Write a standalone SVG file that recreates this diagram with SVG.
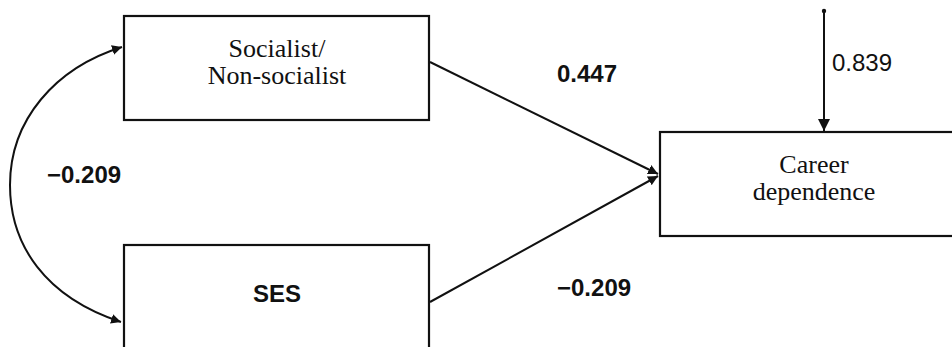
<svg xmlns="http://www.w3.org/2000/svg" width="952" height="347" viewBox="0 0 952 347">
<style>
.box{fill:#fff;stroke:#111;stroke-width:2.2}
.lbl{font-family:"Liberation Serif","Times New Roman",serif;font-size:26px;fill:#111;text-anchor:middle}
.num{font-family:"Liberation Sans",Arial,sans-serif;font-size:24px;fill:#111;font-weight:bold}
.edge{fill:none;stroke:#111;stroke-width:2}
</style>
<defs>
<marker id="ah" viewBox="0 0 10 10" refX="10" refY="5" markerWidth="10" markerHeight="10" markerUnits="userSpaceOnUse" orient="auto-start-reverse">
<path d="M0,0 L10,5 L0,10 z" fill="#111"/>
</marker>
<marker id="ahv" viewBox="0 0 12 12" refX="12" refY="6" markerWidth="12" markerHeight="12" markerUnits="userSpaceOnUse" orient="auto">
<path d="M0,0 L12,6 L0,12 z" fill="#111"/>
</marker>
</defs>
<rect width="952" height="347" fill="#fff"/>
<g id="node-socialist">
<rect class="box" x="124" y="16" width="305" height="104"/>
<text class="lbl" x="277" y="57">Socialist/</text>
<text class="lbl" x="277" y="84">Non-socialist</text>
</g>
<g id="node-ses">
<rect class="box" x="124" y="245" width="305" height="120"/>
<text class="lbl" x="277" y="302" style="font-family:'Liberation Sans',Arial,sans-serif;font-weight:bold;font-size:24px">SES</text>
</g>
<g id="node-career">
<rect class="box" x="660" y="132" width="310" height="104"/>
<text class="lbl" x="814" y="173">Career</text>
<text class="lbl" x="814" y="200">dependence</text>
</g>
<g id="connectors">
<path class="edge" d="M122,47 C55,68 10,120 10,185 C10,245 45,297 121,322" marker-start="url(#ah)" marker-end="url(#ah)"/>
<line class="edge" x1="430" y1="62" x2="658" y2="174" marker-end="url(#ah)"/>
<line class="edge" x1="430" y1="302" x2="658" y2="176" marker-end="url(#ah)"/>
<line class="edge" x1="824" y1="11" x2="824" y2="131" marker-end="url(#ahv)"/>
<circle cx="824" cy="11" r="2.2" fill="#111"/>
<text class="num" x="47" y="183">−0.209</text>
<text class="num" x="557" y="82">0.447</text>
<text class="num" x="557" y="296">−0.209</text>
<text class="num" x="832" y="71" style="font-weight:normal">0.839</text>
</g>
</svg>
